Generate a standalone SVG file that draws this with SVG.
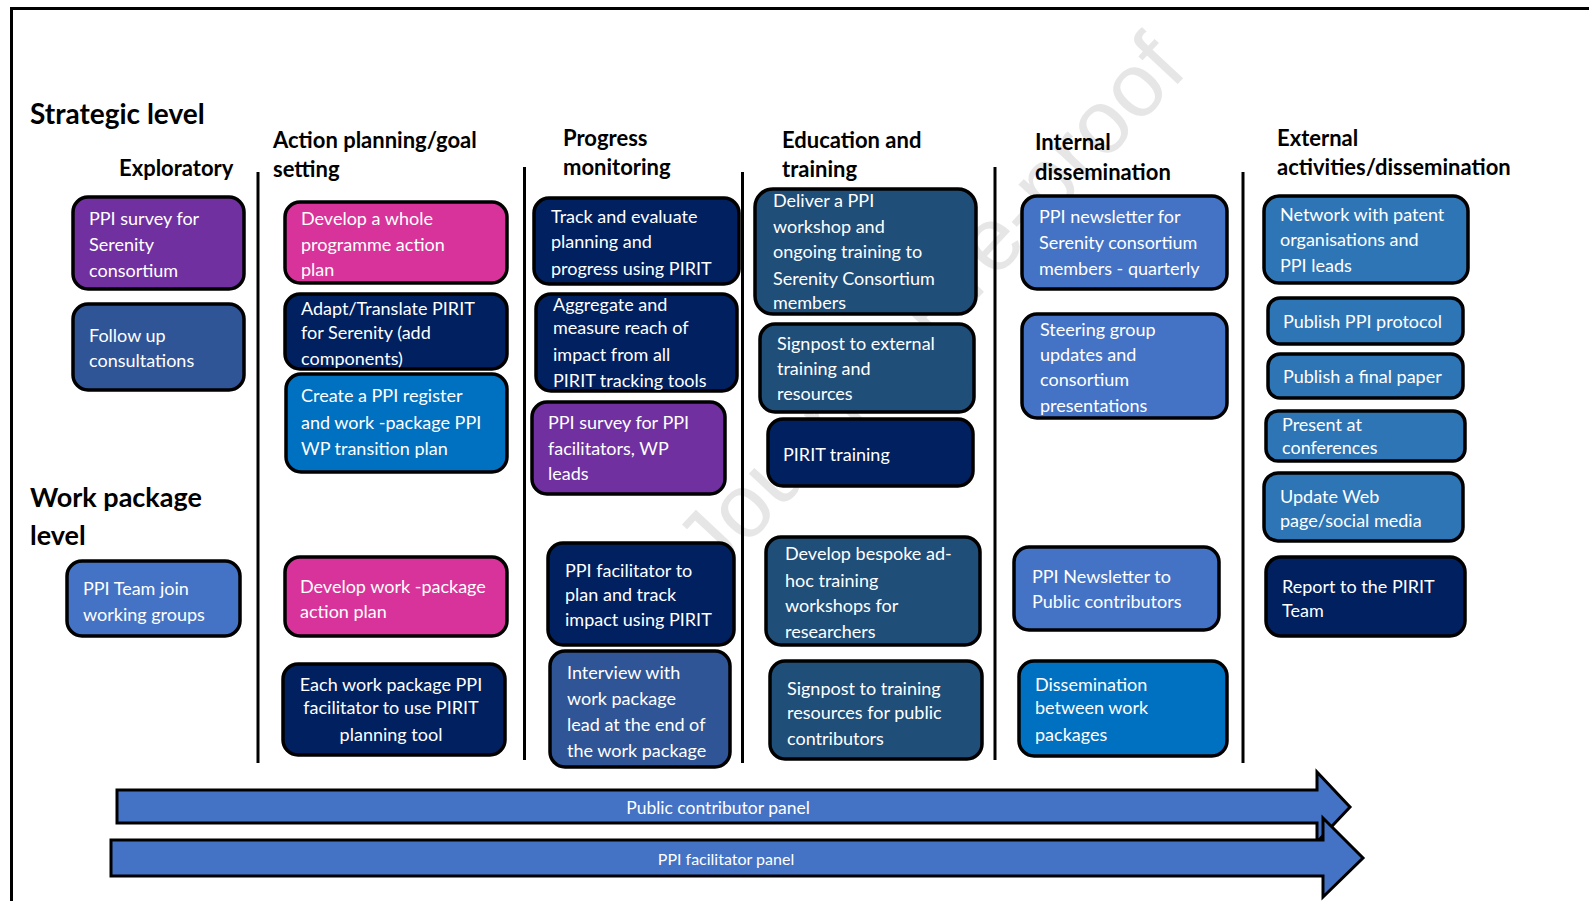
<svg xmlns="http://www.w3.org/2000/svg" width="1589" height="901" viewBox="0 0 1589 901">
<style>
.bx{stroke:#000;stroke-width:3.5}
.t{font-family:Lato,"Liberation Sans",sans-serif;font-size:18px;fill:#fff}
.h{font-family:Lato,"Liberation Sans",sans-serif;font-weight:bold;font-size:22px;fill:#000}
.hl{font-family:Lato,"Liberation Sans",sans-serif;font-weight:bold;font-size:28px;fill:#000}
.sep{stroke:#000;stroke-width:3}
.pur{fill:#7030A0}.pink{fill:#D7339A}.navy{fill:#002060}.mid{fill:#2F5597}.lb{fill:#4472C4}.br{fill:#0070C0}.edu{fill:#1F4E79}.ext{fill:#2E75B6}
.arr{fill:#4472C4;stroke:#000;stroke-width:3}
.wm{font-family:"Liberation Sans",Arial,sans-serif;font-size:90px;fill:#e6e6e6}
</style>
<rect x="0" y="0" width="1589" height="901" fill="#fff"/>
<rect x="11.5" y="8.5" width="1620" height="1000" fill="none" stroke="#000" stroke-width="3"/>
<text class="wm" transform="translate(715,580) rotate(-47)">Journal Pre-proof</text>

<g id="headers">
<text class="hl" x="30" y="124">Strategic level</text>
<text class="h" x="119" y="176">Exploratory</text>
<text class="h" x="273" y="148">Action planning/goal</text>
<text class="h" x="273" y="177">setting</text>
<text class="h" x="563" y="146">Progress</text>
<text class="h" x="563" y="175">monitoring</text>
<text class="h" x="782" y="148">Education and</text>
<text class="h" x="782" y="177">training</text>
<text class="h" x="1035" y="150">Internal</text>
<text class="h" x="1035" y="180">dissemination</text>
<text class="h" x="1277" y="146">External</text>
<text class="h" x="1277" y="175">activities/dissemination</text>
<text class="hl" x="30" y="507" style="font-size:27px">Work package</text>
<text class="hl" x="30" y="545" style="font-size:27px">level</text>
</g>

<g id="separators">
<line class="sep" x1="258" y1="172" x2="258" y2="763"/>
<line class="sep" x1="524.5" y1="167" x2="524.5" y2="760"/>
<line class="sep" x1="742.5" y1="172" x2="742.5" y2="763"/>
<line class="sep" x1="995" y1="167" x2="995" y2="760"/>
<line class="sep" x1="1243" y1="172" x2="1243" y2="763"/>
</g>

<g id="n1"><rect class="bx pur" x="73" y="197" width="171" height="92" rx="15"/><text class="t"><tspan x="89" y="225">PPI survey for</tspan><tspan x="89" y="251">Serenity</tspan><tspan x="89" y="277">consortium</tspan></text></g>
<g id="n2"><rect class="bx mid" x="73" y="304" width="171" height="86" rx="15"/><text class="t"><tspan x="89" y="342">Follow up</tspan><tspan x="89" y="367">consultations</tspan></text></g>
<g id="n3"><rect class="bx lb" x="67" y="561" width="173" height="75" rx="15"/><text class="t"><tspan x="83" y="595">PPI Team join</tspan><tspan x="83" y="621">working groups</tspan></text></g>

<g id="n4"><rect class="bx pink" x="285" y="202" width="222" height="81" rx="15"/><text class="t"><tspan x="301" y="225">Develop a whole</tspan><tspan x="301" y="251">programme action</tspan><tspan x="301" y="276">plan</tspan></text></g>
<g id="n5"><rect class="bx navy" x="285" y="294" width="222" height="75" rx="15"/><text class="t"><tspan x="301" y="315">Adapt/Translate PIRIT</tspan><tspan x="301" y="339">for Serenity (add</tspan><tspan x="301" y="365">components)</tspan></text></g>
<g id="n6"><rect class="bx br" x="286" y="374" width="221" height="98" rx="15"/><text class="t"><tspan x="301" y="402">Create a PPI register</tspan><tspan x="301" y="429">and work -package PPI</tspan><tspan x="301" y="455">WP transition plan</tspan></text></g>
<g id="n7"><rect class="bx pink" x="285" y="557" width="222" height="79" rx="15"/><text class="t"><tspan x="300" y="593">Develop work -package</tspan><tspan x="300" y="618">action plan</tspan></text></g>
<g id="n8"><rect class="bx navy" x="283" y="664" width="222" height="91" rx="15"/><text class="t" text-anchor="middle"><tspan x="391" y="691">Each work package PPI</tspan><tspan x="391" y="714">facilitator to use PIRIT</tspan><tspan x="391" y="741">planning tool</tspan></text></g>

<g id="n9"><rect class="bx navy" x="534" y="198" width="205" height="86" rx="15"/><text class="t"><tspan x="551" y="223">Track and evaluate</tspan><tspan x="551" y="248">planning and</tspan><tspan x="551" y="275">progress using PIRIT</tspan></text></g>
<g id="n10"><rect class="bx navy" x="536" y="294" width="201" height="97" rx="15"/><text class="t"><tspan x="553" y="311">Aggregate and</tspan><tspan x="553" y="334">measure reach of</tspan><tspan x="553" y="361">impact from all</tspan><tspan x="553" y="387">PIRIT tracking tools</tspan></text></g>
<g id="n11"><rect class="bx pur" x="532" y="402" width="193" height="92" rx="15"/><text class="t"><tspan x="548" y="429">PPI survey for PPI</tspan><tspan x="548" y="455">facilitators, WP</tspan><tspan x="548" y="480">leads</tspan></text></g>
<g id="n12"><rect class="bx navy" x="548" y="543" width="186" height="102" rx="15"/><text class="t"><tspan x="565" y="577">PPI facilitator to</tspan><tspan x="565" y="601">plan and track</tspan><tspan x="565" y="626">impact using PIRIT</tspan></text></g>
<g id="n13"><rect class="bx mid" x="550" y="651" width="180" height="116" rx="15"/><text class="t"><tspan x="567" y="679">Interview with</tspan><tspan x="567" y="705">work package</tspan><tspan x="567" y="731">lead at the end of</tspan><tspan x="567" y="757">the work package</tspan></text></g>

<g id="n14"><rect class="bx edu" x="755" y="189" width="221" height="125" rx="18"/><text class="t"><tspan x="773" y="207">Deliver a PPI</tspan><tspan x="773" y="233">workshop and</tspan><tspan x="773" y="258">ongoing training to</tspan><tspan x="773" y="285">Serenity Consortium</tspan><tspan x="773" y="309">members</tspan></text></g>
<g id="n15"><rect class="bx edu" x="760" y="324" width="214" height="88" rx="15"/><text class="t"><tspan x="777" y="350">Signpost to external</tspan><tspan x="777" y="375">training and</tspan><tspan x="777" y="400">resources</tspan></text></g>
<g id="n16"><rect class="bx navy" x="768" y="419" width="205" height="67" rx="15"/><text class="t"><tspan x="783" y="461">PIRIT training</tspan></text></g>
<g id="n17"><rect class="bx edu" x="766" y="537" width="214" height="108" rx="15"/><text class="t"><tspan x="785" y="560">Develop bespoke ad-</tspan><tspan x="785" y="587">hoc training</tspan><tspan x="785" y="612">workshops for</tspan><tspan x="785" y="638">researchers</tspan></text></g>
<g id="n18"><rect class="bx edu" x="770" y="661" width="212" height="98" rx="15"/><text class="t"><tspan x="787" y="695">Signpost to training</tspan><tspan x="787" y="719">resources for public</tspan><tspan x="787" y="745">contributors</tspan></text></g>

<g id="n19"><rect class="bx lb" x="1022" y="196" width="205" height="93" rx="15"/><text class="t"><tspan x="1039" y="223">PPI newsletter for</tspan><tspan x="1039" y="249">Serenity consortium</tspan><tspan x="1039" y="275">members - quarterly</tspan></text></g>
<g id="n20"><rect class="bx lb" x="1022" y="314" width="205" height="104" rx="15"/><text class="t"><tspan x="1040" y="336">Steering group</tspan><tspan x="1040" y="361">updates and</tspan><tspan x="1040" y="386">consortium</tspan><tspan x="1040" y="412">presentations</tspan></text></g>
<g id="n21"><rect class="bx lb" x="1014" y="547" width="205" height="83" rx="15"/><text class="t"><tspan x="1032" y="583">PPI Newsletter to</tspan><tspan x="1032" y="608">Public contributors</tspan></text></g>
<g id="n22"><rect class="bx br" x="1019" y="661" width="208" height="95" rx="15"/><text class="t"><tspan x="1035" y="691">Dissemination</tspan><tspan x="1035" y="714">between work</tspan><tspan x="1035" y="741">packages</tspan></text></g>

<g id="n23"><rect class="bx ext" x="1264" y="196" width="204" height="87" rx="15"/><text class="t"><tspan x="1280" y="221">Network with patent</tspan><tspan x="1280" y="246">organisations and</tspan><tspan x="1280" y="272">PPI leads</tspan></text></g>
<g id="n24"><rect class="bx ext" x="1268" y="298" width="195" height="46" rx="12"/><text class="t"><tspan x="1283" y="328">Publish PPI protocol</tspan></text></g>
<g id="n25"><rect class="bx ext" x="1268" y="354" width="195" height="44" rx="12"/><text class="t"><tspan x="1283" y="383">Publish a final paper</tspan></text></g>
<g id="n26"><rect class="bx ext" x="1266" y="411" width="199" height="50" rx="12"/><text class="t"><tspan x="1282" y="431">Present at</tspan><tspan x="1282" y="454">conferences</tspan></text></g>
<g id="n27"><rect class="bx ext" x="1264" y="473" width="199" height="68" rx="14"/><text class="t"><tspan x="1280" y="503">Update Web</tspan><tspan x="1280" y="527">page/social media</tspan></text></g>
<g id="n28"><rect class="bx navy" x="1266" y="557" width="199" height="79" rx="15"/><text class="t"><tspan x="1282" y="593">Report  to the PIRIT</tspan><tspan x="1282" y="617">Team</tspan></text></g>

<g id="connectors">
<g id="arrow-public"><polygon class="arr" points="117,790 1317,790 1317,772 1350,807 1317,842 1317,823 117,823"/><text class="t" x="718" y="814" text-anchor="middle" style="font-size:17.5px">Public contributor panel</text></g>
<g id="arrow-facilitator"><polygon class="arr" points="111,840 1323,840 1323,818 1363,858 1323,897 1323,876 111,876"/><text class="t" x="726" y="865" text-anchor="middle" style="font-size:16px">PPI facilitator panel</text></g>
</g>
</svg>
